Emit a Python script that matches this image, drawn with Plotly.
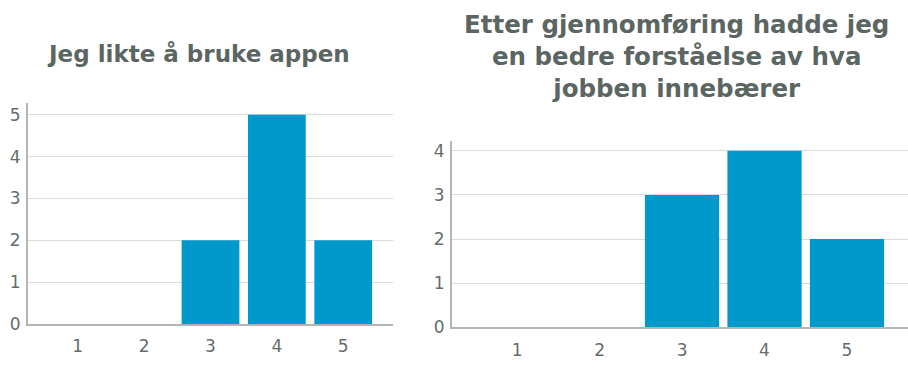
import plotly.graph_objects as go

categories = [1, 2, 3, 4, 5]
tick_labels = ["1", "2", "3", "4", "5"]
liked_counts = [0, 0, 2, 5, 2]
understanding_counts = [0, 0, 3, 4, 2]
title_left = "Jeg likte å bruke appen"
title_right = "Etter gjennomføring hadde jeg<br>en bedre forståelse av hva<br>jobben innebærer"

W, H = 908, 365
BAR = "#0099cc"
GRID = "#dadada"
AXIS = "#b4b4b4"
TICK = "#646c6c"
TITLE = "#5b6662"
FONT = "DejaVu Sans, Arial, sans-serif"

fig = go.Figure()
fig.add_trace(go.Bar(x=categories, y=liked_counts, width=0.87, marker=dict(color=BAR, line=dict(width=0)),
                     xaxis="x", yaxis="y", showlegend=False))
fig.add_trace(go.Bar(x=categories, y=understanding_counts, width=0.9, marker=dict(color=BAR, line=dict(width=0)),
                     xaxis="x2", yaxis="y2", showlegend=False))

def xax(domain, rng, anchor):
    return dict(domain=domain, range=rng, anchor=anchor, tickmode="array", tickvals=categories,
                ticktext=tick_labels, showgrid=False, zeroline=False, showline=True, linecolor=AXIS,
                linewidth=2, ticks="outside", ticklen=6, tickcolor="rgba(0,0,0,0)",
                tickfont=dict(size=17, color=TICK, family=FONT), fixedrange=True)

def yax(domain, rng, anchor, maxv):
    return dict(domain=domain, range=rng, anchor=anchor, tickmode="array", tickvals=list(range(0, maxv + 1)),
                showgrid=True, gridcolor=GRID, gridwidth=1, zeroline=False, showline=True, linecolor=AXIS,
                linewidth=2, ticks="outside", ticklen=2, tickcolor="rgba(0,0,0,0)",
                tickfont=dict(size=17, color=TICK, family=FONT), fixedrange=True)

fig.update_layout(
    width=W, height=H,
    margin=dict(l=0, r=0, t=0, b=0),
    paper_bgcolor="white", plot_bgcolor="white",
    xaxis=xax([28 / W, 393 / W], [0.25, 5.75], "y"),
    yaxis=yax([1 - 333 / H, 1 - 106 / H], [0, 5.28], "x", 5),
    xaxis2=xax([452 / W, 1.0], [0.21, 5.74], "y2"),
    yaxis2=yax([1 - 336.7 / H, 1 - 145 / H], [0, 4.22], "x2", 4),
    font=dict(family=FONT),
    annotations=[
        dict(text=title_left, x=198 / W, y=1 - 56 / H, xref="paper", yref="paper", showarrow=False,
             xanchor="center", yanchor="middle", font=dict(size=23, color=TITLE, family=FONT, weight="bold")),
        dict(text=title_right, x=676 / W, y=1 - 58 / H, xref="paper", yref="paper", showarrow=False,
             xanchor="center", yanchor="middle", font=dict(size=24.5, color=TITLE, family=FONT, weight="bold")),
    ],
)

fig.write_html("out.html")
